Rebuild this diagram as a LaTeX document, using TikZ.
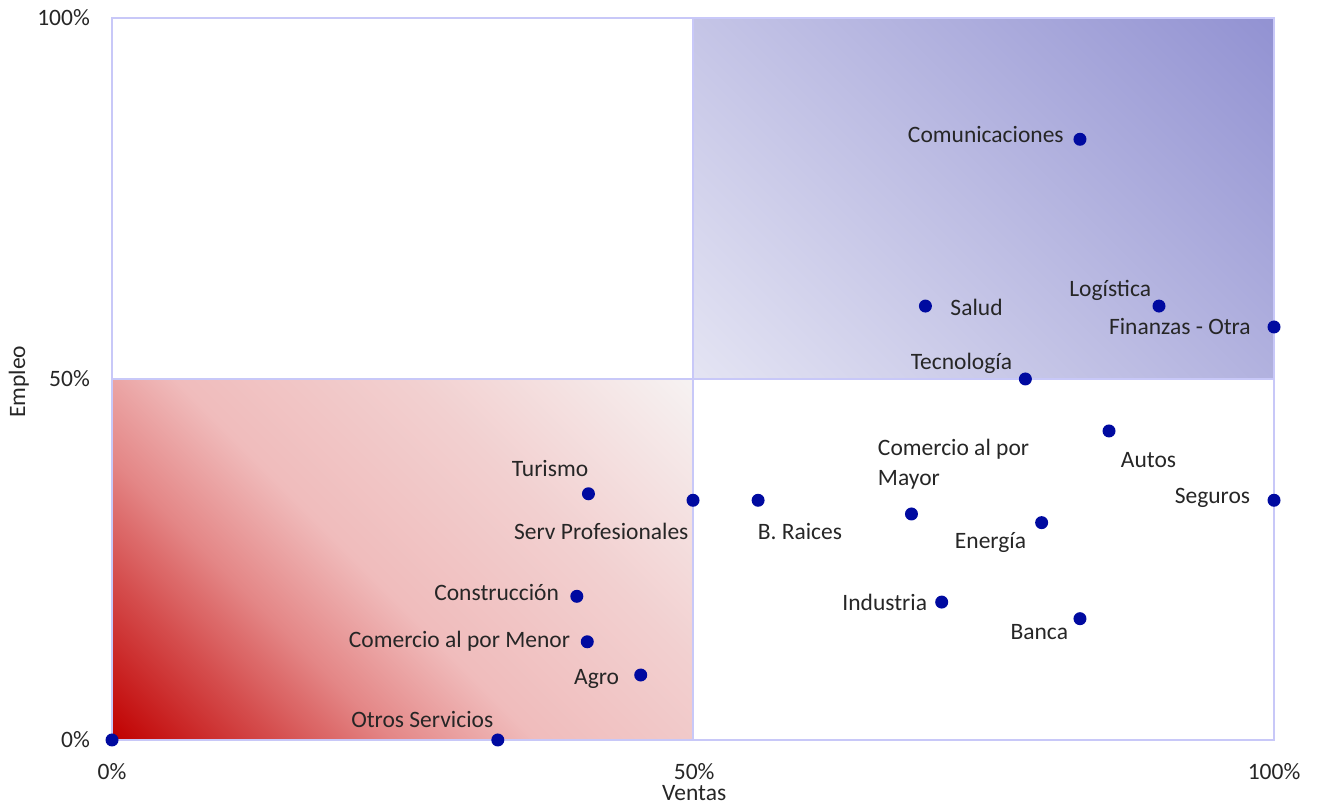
\documentclass[tikz,border=0pt]{standalone}
\usepackage{fontspec}
\setmainfont{Carlito}
\usetikzlibrary{positioning}
\definecolor{gridlav}{RGB}{200,200,248}
\definecolor{dotblue}{RGB}{0,10,160}
\definecolor{txtgray}{RGB}{38,38,38}
\definecolor{rqA}{RGB}{192,0,0}
\definecolor{rqB}{RGB}{212,75,75}
\definecolor{rqC}{RGB}{228,135,135}
\definecolor{rqD}{RGB}{240,188,188}
\definecolor{rqE}{RGB}{242,208,208}
\definecolor{rqF}{RGB}{246,242,242}
\definecolor{bqA}{RGB}{228,228,243}
\definecolor{bqC}{RGB}{146,146,210}
\pgfdeclareverticalshading{redquad}{100bp}{color(0bp)=(rqA); color(14.6bp)=(rqA); color(26.6bp)=(rqB); color(35.8bp)=(rqC); color(46.5bp)=(rqD); color(64.2bp)=(rqE); color(85.4bp)=(rqF); color(100bp)=(rqF)}
\pgfdeclareverticalshading{bluequad}{100bp}{color(0bp)=(bqA); color(14.6bp)=(bqA); color(85.4bp)=(bqC); color(100bp)=(bqC)}
\tikzset{
    dot/.style={circle, fill=dotblue, minimum size=13pt, inner sep=0pt},
    txt/.style={text=txtgray, font=\fontsize{23.5}{30}\selectfont, inner sep=0pt, text height=0.64em, text depth=0pt},
    lbl/.style={txt, yshift=-4.5pt},
    lbltwo/.style={text=txtgray, font=\fontsize{23.5}{30}\selectfont, inner sep=0pt, align=left},
    quad/.style={draw=gridlav, line width=2pt}
}
\begin{document}
\begin{tikzpicture}[x=11.62pt, y=7.22pt]
    \useasboundingbox (-9.64,-9.0) rectangle (103.87,102.49);
    \fill[shading=redquad, shading angle=-45] (0,0) rectangle (50,50);
    \fill[shading=bluequad, shading angle=-45] (50,50) rectangle (100,100);
    \draw[quad] (0,0) rectangle (50,50);
    \draw[quad] (50,0) rectangle (100,50);
    \draw[quad] (0,50) rectangle (50,100);
    \draw[quad] (50,50) rectangle (100,100);

    \node[lbl, anchor=east] (y0) at (-1.89,0) {0\%};
    \node[lbl, anchor=east] (y50) at (-1.89,50) {50\%};
    \node[lbl, anchor=east] (y100) at (-1.89,100) {100\%};
    \node[lbl] (x0) at (0,-4.43) {0\%};
    \node[lbl] (x50) at (50.1,-4.43) {50\%};
    \node[lbl] (x100) at (100,-4.43) {100\%};
    \node[lbl] (ventas) at (50.1,-7.3) {Ventas};
    \node[txt, rotate=90] (empleo) at (-7.75,49.6) {Empleo};

    \node[dot] (orig) at (0,0) {};
    \node[dot] (otros) at (33.2,0) {};
    \node[dot] (agro) at (45.5,9.0) {};
    \node[dot] (menor) at (40.9,13.6) {};
    \node[dot] (constr) at (40.0,19.9) {};
    \node[dot] (turismo) at (41.0,34.1) {};
    \node[dot] (serv) at (50.0,33.2) {};
    \node[dot] (raices) at (55.6,33.2) {};
    \node[dot] (mayor) at (68.8,31.3) {};
    \node[dot] (industria) at (71.4,19.1) {};
    \node[dot] (banca) at (83.3,16.8) {};
    \node[dot] (energia) at (80.0,30.1) {};
    \node[dot] (seguros) at (100,33.2) {};
    \node[dot] (autos) at (85.8,42.8) {};
    \node[dot] (tecno) at (78.6,50.0) {};
    \node[dot] (salud) at (70.0,60.1) {};
    \node[dot] (logist) at (90.1,60.1) {};
    \node[dot] (finanzas) at (100,57.2) {};
    \node[dot] (comu) at (83.3,83.2) {};

    \node[lbl] (otros-l) at (26.7,2.8) {Otros Servicios};
    \node[lbl] (agro-l) at (41.7,8.7) {Agro};
    \node[lbl] (menor-l) at (29.9,13.9) {Comercio al por Menor};
    \node[lbl] (constr-l) at (33.1,20.4) {Construcción};
    \node[lbl] (turismo-l) at (37.7,37.5) {Turismo};
    \node[lbl] (serv-l) at (42.1,28.9) {Serv Profesionales};
    \node[lbl] (raices-l) at (59.2,28.9) {B. Raices};
    \node[lbltwo, anchor=west] (mayor-l) at (65.9,38.2) {Comercio al por\\Mayor};
    \node[lbl] (industria-l) at (66.5,19.0) {Industria};
    \node[lbl] (banca-l) at (79.8,15.0) {Banca};
    \node[lbl] (energia-l) at (75.6,27.6) {Energía};
    \node[lbl] (seguros-l) at (94.7,33.8) {Seguros};
    \node[lbl] (autos-l) at (89.2,38.8) {Autos};
    \node[lbl] (tecno-l) at (73.1,52.4) {Tecnología};
    \node[lbl] (salud-l) at (74.4,59.8) {Salud};
    \node[lbl] (logist-l) at (85.9,62.5) {Logística};
    \node[lbl] (finanzas-l) at (91.9,57.2) {Finanzas - Otra};
    \node[lbl] (comu-l) at (75.2,83.8) {Comunicaciones};
\end{tikzpicture}
\end{document}
